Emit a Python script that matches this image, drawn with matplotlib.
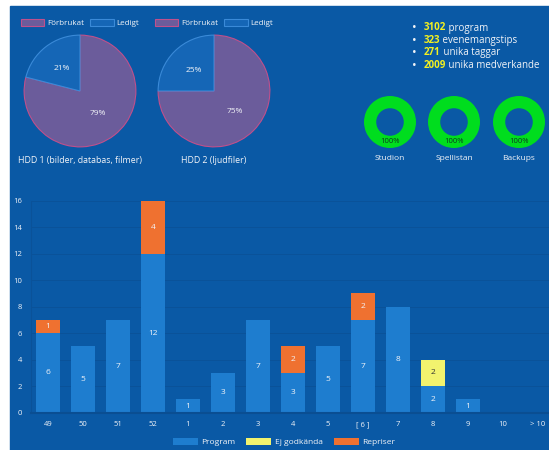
import matplotlib.pyplot as plt
from matplotlib.patches import Rectangle, Patch

# ---- data ----
pie_labels = ["Förbrukat", "Ledigt"]
hdd1 = [79, 21]
hdd2 = [75, 25]
hdd_titles = ["HDD 1 (bilder, databas, filmer)", "HDD 2 (ljudfiler)"]

stat_numbers = ["3102", "323", "271", "2009"]
stat_texts = ["program", "evenemangstips", "unika taggar", "unika medverkande"]

status_names = ["Studion", "Spellistan", "Backups"]
status_values = [100, 100, 100]

weeks = ["49", "50", "51", "52", "1", "2", "3", "4", "5", "[ 6 ]", "7", "8", "9", "10", "> 10"]
program = [6, 5, 7, 12, 1, 3, 7, 3, 5, 7, 8, 2, 1, 0, 0]
ej_godkanda = [0, 0, 0, 0, 0, 0, 0, 0, 0, 0, 0, 2, 0, 0, 0]
repriser = [1, 0, 0, 4, 0, 0, 0, 2, 0, 2, 0, 0, 0, 0, 0]

# ---- colours ----
BG = "#0A59A5"
GRID = "#0A5299"
BAR = "#1E7DCF"
YELLOW = "#F2F36E"
ORANGE = "#EF7130"
PURPLE = "#6B5C9B"
LEDIGT = "#1566B6"
GREEN = "#00DD1E"
TXT = "#F2F4F8"

plt.rcParams["font.family"] = ["Open Sans", "DejaVu Sans"]

W, H = 549, 450
fig = plt.figure(figsize=(W / 100, H / 100), dpi=100)
fig.patch.set_facecolor("white")
fig.patches.append(Rectangle((10 / W, 0), 1, 1 - 6 / H, transform=fig.transFigure,
                             color=BG, zorder=-10))


def px(x, y):
    return x / W, 1 - y / H


def axes_px(x0, y0, x1, y1):
    return fig.add_axes([x0 / W, 1 - y1 / H, (x1 - x0) / W, (y1 - y0) / H])


# ---- disk pies ----
for vals, title, cx in [(hdd1, hdd_titles[0], 80), (hdd2, hdd_titles[1], 214)]:
    ax = axes_px(cx - 57, 34, cx + 57, 148)
    ax.pie(vals, colors=[PURPLE, LEDIGT], startangle=90, counterclock=False,
           radius=1, wedgeprops=dict(linewidth=0.8),
           autopct=lambda p: f"{p:.0f}%", pctdistance=0.52,
           textprops=dict(color=TXT, fontsize=6))
    ax.patches[0].set_edgecolor("#C0508C")
    ax.patches[1].set_edgecolor("#3A8AD8")
    ax.set_xlim(-1.02, 1.02)
    ax.set_ylim(-1.02, 1.02)
    ax.axis("off")
    handles = [Patch(facecolor=PURPLE, edgecolor="#C0508C", linewidth=0.8),
               Patch(facecolor=LEDIGT, edgecolor="#3A8AD8", linewidth=0.8)]
    fig.legend(handles, pie_labels, loc="center", bbox_to_anchor=px(cx, 23), ncol=2,
               frameon=False, fontsize=5.8, labelcolor=TXT, handlelength=2.9,
               handleheight=0.9, handletextpad=0.35, columnspacing=0.8, borderpad=0)
    fig.text(*px(cx, 160), title, color=TXT, fontsize=6.3, ha="center", va="center")

# ---- stats list ----
for i, (num, txt) in enumerate(zip(stat_numbers, stat_texts)):
    y = 28 + i * 12.4
    fig.text(*px(414, y), "•", color=TXT, fontsize=9, ha="center", va="center")
    t = fig.text(*px(424, y), num, color="#F3F020", fontsize=7, fontweight="bold",
                 ha="left", va="center")
    fig.add_artist(plt.Annotation(" " + txt, xy=(1, 0.5), xycoords=t, color=TXT,
                                  fontsize=7, ha="left", va="center"))

# ---- status donuts ----
for name, val, cx in zip(status_names, status_values, [390, 454, 519]):
    ax = axes_px(cx - 26, 96, cx + 26, 148)
    ax.pie([val], colors=[GREEN], startangle=90, radius=1,
           wedgeprops=dict(width=0.47, linewidth=0))
    ax.text(0, -0.74, f"{val}%", color="#0B3A20", fontsize=5.5, ha="center", va="center")
    ax.set_xlim(-1, 1)
    ax.set_ylim(-1, 1)
    ax.axis("off")
    fig.text(*px(cx, 159), name, color=TXT, fontsize=6, ha="center", va="center")

# ---- weekly bar chart ----
ax = axes_px(30.5, 200.7, 555.5, 412.7)
ax.set_facecolor("none")
x = list(range(len(weeks)))
bottom2 = [a + b for a, b in zip(program, ej_godkanda)]
b1 = ax.bar(x, program, width=0.71, color=BAR, label="Program", zorder=2)
b2 = ax.bar(x, ej_godkanda, width=0.71, bottom=program, color=YELLOW,
            label="Ej godkända", zorder=2)
b3 = ax.bar(x, repriser, width=0.71, bottom=bottom2, color=ORANGE,
            label="Repriser", zorder=2)
ax.bar_label(b1, labels=[str(v) if v else "" for v in program], label_type="center",
             color=TXT, fontsize=6)
ax.bar_label(b2, labels=[str(v) if v else "" for v in ej_godkanda], label_type="center",
             color="#303030", fontsize=6)
ax.bar_label(b3, labels=[str(v) if v else "" for v in repriser], label_type="center",
             color=TXT, fontsize=6)

ax.set_xlim(-0.5, len(weeks) - 0.5)
ax.set_ylim(0, 16)
ax.set_yticks(range(0, 17, 2))
ax.set_xticks(x)
ax.set_xticklabels(weeks)
ax.tick_params(colors=TXT, labelsize=5.5, length=0)
ax.tick_params(axis="y", pad=6)
ax.tick_params(axis="x", pad=6)
ax.yaxis.grid(True, color=GRID, linewidth=0.7, zorder=0)
for s in ["top", "right"]:
    ax.spines[s].set_visible(False)
ax.spines["left"].set_color(GRID)
ax.spines["bottom"].set_color("#0A4E92")
ax.spines["bottom"].set_linewidth(1.5)

fig.legend(handles=[b1, b2, b3], loc="center", bbox_to_anchor=px(284, 442), ncol=3,
           frameon=False, fontsize=6, labelcolor=TXT, handlelength=3.0,
           handleheight=0.9, handletextpad=0.45, columnspacing=1.3, borderpad=0)

fig.savefig("out.png", dpi=100, facecolor=fig.get_facecolor())
